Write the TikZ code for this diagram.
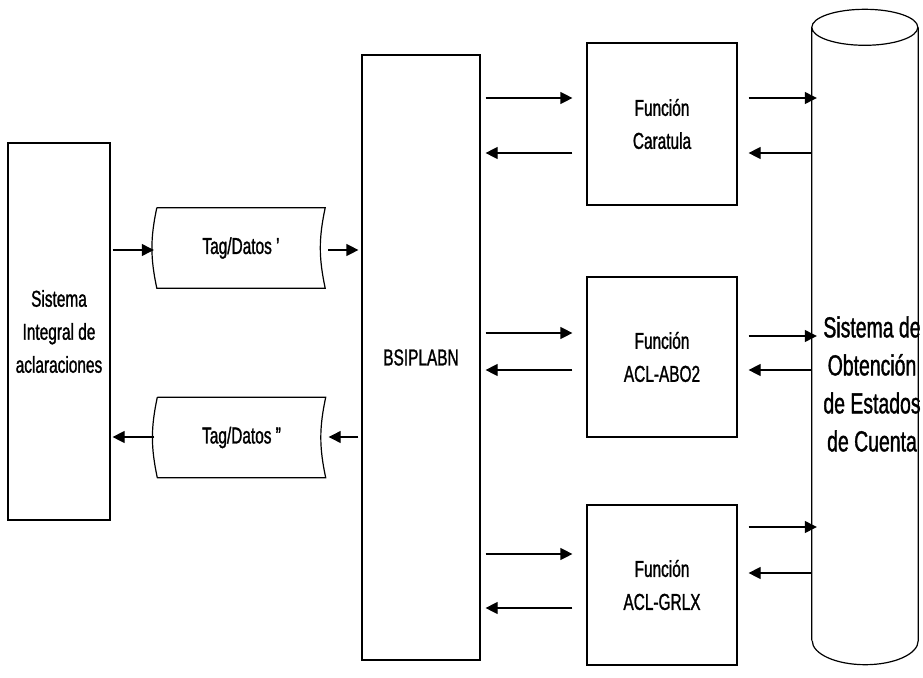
\documentclass[tikz,border=0pt]{standalone}
\usepackage{fontspec}
\setmainfont{Liberation Sans}[FakeStretch=0.67, FakeBold=1.2]
\usetikzlibrary{arrows.meta}
\tikzset{
  box/.style={draw, line width=1.2pt, align=center, font=\fontsize{23}{33}\selectfont},
  tagbox/.style={align=center, minimum width=168pt, minimum height=80pt, font=\fontsize{23}{33}\selectfont},
  big/.style={align=center, font=\fontsize{29}{38}\selectfont},
  flow/.style={line width=1.2pt, -{Triangle[length=12pt,width=12pt]}},
}
\begin{document}
\begin{tikzpicture}[x=1pt, y=-1pt]
\useasboundingbox (0,0) rectangle (923,677);
% left system
\node[box, minimum width=102pt, minimum height=377pt] (sia) at (59,331.5) {Sistema\\Integral de\\aclaraciones};
% data packets
\node[tagbox] (td1) at (241,248) {Tag/Datos '};
\node[tagbox] (td2) at (241.5,437.5) {Tag/Datos "};
\draw[line width=1.2pt] (td1.north west) -- (td1.north east) to[bend right=12] (td1.south east) -- (td1.south west) to[bend left=12] (td1.north west);
\draw[line width=1.2pt] (td2.north west) -- (td2.north east) to[bend right=12] (td2.south east) -- (td2.south west) to[bend left=12] (td2.north west);
% gateway
\node[box, minimum width=118pt, minimum height=605pt] (bsi) at (421,357.5) {BSIPLABN};
% functions
\node[box, minimum width=150pt, minimum height=162pt] (car) at (662,124) {Función\\Caratula};
\node[box, minimum width=150pt, minimum height=160pt] (abo) at (662,357) {Función\\ACL-ABO2};
\node[box, minimum width=150pt, minimum height=160pt] (grl) at (662,585) {Función\\ACL-GRLX};
% right system (cylinder)
\node[minimum width=106pt, minimum height=613pt] (sys) at (865,334) {};
\draw[line width=1.2pt] (sys.south west) -- (sys.north west) arc[start angle=180, end angle=-180, x radius=53pt, y radius=18pt];
\draw[line width=1.2pt] (sys.north east) -- (sys.south east) arc[start angle=0, end angle=-180, x radius=53pt, y radius=24pt];
\node[big] (systxt) at (872,384) {Sistema de\\Obtención\\de Estados\\de Cuenta};
% left side flows
\draw[flow, shorten <=2pt, shorten >=3pt] (sia.east |- 0,250) -- (td1.west |- 0,250);
\draw[flow, shorten <=3pt, shorten >=3pt] (td1.east |- 0,250) -- (bsi.west |- 0,250);
\draw[flow, shorten <=3pt, shorten >=3pt] (bsi.west |- 0,437) -- (td2.east |- 0,437);
\draw[flow, shorten <=3pt, shorten >=2pt] (td2.west |- 0,437) -- (sia.east |- 0,437);
% gateway <-> functions
\draw[flow, shorten <=5pt, shorten >=14pt] (bsi.east |- 0,98) -- (car.west |- 0,98);
\draw[flow, shorten <=14pt, shorten >=5pt] (car.west |- 0,153) -- (bsi.east |- 0,153);
\draw[flow, shorten <=5pt, shorten >=14pt] (bsi.east |- 0,333) -- (abo.west |- 0,333);
\draw[flow, shorten <=14pt, shorten >=5pt] (abo.west |- 0,370) -- (bsi.east |- 0,370);
\draw[flow, shorten <=5pt, shorten >=14pt] (bsi.east |- 0,554) -- (grl.west |- 0,554);
\draw[flow, shorten <=14pt, shorten >=5pt] (grl.west |- 0,608) -- (bsi.east |- 0,608);
% functions <-> right system
\draw[flow, shorten <=11pt, shorten >=-5pt] (car.east |- 0,98) -- (sys.west |- 0,98);
\draw[flow, shorten >=11pt] (sys.west |- 0,153) -- (car.east |- 0,153);
\draw[flow, shorten <=11pt, shorten >=-5pt] (abo.east |- 0,336) -- (sys.west |- 0,336);
\draw[flow, shorten >=11pt] (sys.west |- 0,370) -- (abo.east |- 0,370);
\draw[flow, shorten <=11pt, shorten >=-5pt] (grl.east |- 0,527) -- (sys.west |- 0,527);
\draw[flow, shorten >=11pt] (sys.west |- 0,573) -- (grl.east |- 0,573);
\end{tikzpicture}
\end{document}
